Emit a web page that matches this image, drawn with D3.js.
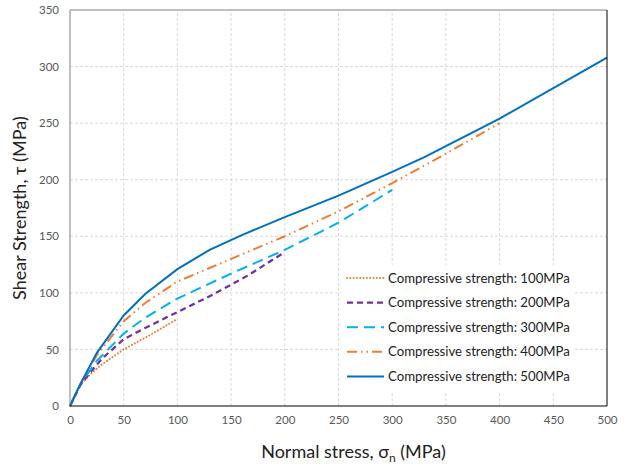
<!DOCTYPE html>
<html>
<head>
<meta charset="utf-8">
<script src="https://cdn.jsdelivr.net/npm/d3@7"></script>
<style>
  body { margin: 0; background: #fff; }
  text { font-family: Lato, 'Open Sans', sans-serif; }
</style>
</head>
<body>
<svg id="chart"></svg>
<script>
const xTicks = [0, 50, 100, 150, 200, 250, 300, 350, 400, 450, 500]
const yTicks = [0, 50, 100, 150, 200, 250, 300, 350]

const names = [
  'Compressive strength: 100MPa',
  'Compressive strength: 200MPa',
  'Compressive strength: 300MPa',
  'Compressive strength: 400MPa',
  'Compressive strength: 500MPa'
]

const x100 = [0, 5, 10, 20, 30, 50, 75, 100]
const y100 = [0, 11, 19, 29, 37, 50, 63, 77]

const x200 = [0, 10, 20, 30, 50, 70, 100, 130, 165, 200]
const y200 = [0, 19, 31, 42, 59, 69, 83, 97, 115, 136]

const x300 = [0, 10, 25, 50, 70, 100, 150, 200, 250, 300]
const y300 = [0, 20, 40, 64, 78, 95, 117, 138, 162, 191]

const x400 = [0, 10, 25, 50, 70, 100, 150, 200, 250, 300, 350, 400]
const y400 = [0, 20, 45, 75, 91, 110, 130, 150, 172, 197, 223, 250]

const x500 = [0, 10, 25, 50, 70, 100, 130, 160, 200, 250, 300, 330, 400, 450, 500]
const y500 = [0, 20, 47, 80, 99, 121, 138, 151, 167, 186, 207, 220, 254, 281, 308]

const width = 629
const height = 465
const margin = { top: 10, right: 22, bottom: 59, left: 70 }

const styles = [
  { color: '#ED7D31', dash: '0.1,3.2', cap: 'round', w: 2 },
  { color: '#7030A0', dash: '6,4', cap: 'butt', w: 2.25 },
  { color: '#00B0F0', dash: '11,6', cap: 'butt', w: 2 },
  { color: '#ED7D31', dash: '10,4,1.5,4,1.5,4', cap: 'butt', w: 2 },
  { color: '#0070C0', dash: null, cap: 'butt', w: 2 }
]

const series = [
  x100.map((d, i) => ({ x: d, y: y100[i] })),
  x200.map((d, i) => ({ x: d, y: y200[i] })),
  x300.map((d, i) => ({ x: d, y: y300[i] })),
  x400.map((d, i) => ({ x: d, y: y400[i] })),
  x500.map((d, i) => ({ x: d, y: y500[i] }))
]

const svg = d3.select('#chart')
  .attr('width', width)
  .attr('height', height)

const xScale = d3.scaleLinear()
  .domain([0, 500])
  .range([margin.left, width - margin.right])

const yScale = d3.scaleLinear()
  .domain([0, 350])
  .range([height - margin.bottom, margin.top])

// grid
svg.append('g')
  .selectAll('line')
  .data(xTicks.slice(1, -1))
  .join('line')
  .attr('x1', d => xScale(d)).attr('x2', d => xScale(d))
  .attr('y1', yScale(0)).attr('y2', yScale(350))
  .attr('stroke', '#d9d9d9')
  .attr('stroke-dasharray', '3,2')

svg.append('g')
  .selectAll('line')
  .data(yTicks.slice(1, -1))
  .join('line')
  .attr('y1', d => yScale(d)).attr('y2', d => yScale(d))
  .attr('x1', xScale(0)).attr('x2', xScale(500))
  .attr('stroke', '#d9d9d9')
  .attr('stroke-dasharray', '3,2')

// axes
const xAxis = d3.axisBottom(xScale).tickValues(xTicks).tickSize(0).tickPadding(10)
const yAxis = d3.axisLeft(yScale).tickValues(yTicks).tickSize(0).tickPadding(11)

const gx = svg.append('g')
  .attr('transform', `translate(0, ${yScale(0)})`)
  .call(xAxis)
gx.select('.domain').remove()
gx.selectAll('text').attr('fill', '#595959').style('font-size', '11.5px')

const gy = svg.append('g')
  .attr('transform', `translate(${xScale(0)}, 0)`)
  .call(yAxis)
gy.select('.domain').remove()
gy.selectAll('text').attr('fill', '#595959').style('font-size', '11.5px')

// lines
const line = d3.line()
  .x(d => xScale(d.x))
  .y(d => yScale(d.y))

svg.append('g')
  .selectAll('path')
  .data(series)
  .join('path')
  .attr('d', d => line(d))
  .attr('fill', 'none')
  .attr('stroke', (d, i) => styles[i].color)
  .attr('stroke-width', (d, i) => styles[i].w)
  .attr('stroke-dasharray', (d, i) => styles[i].dash)
  .attr('stroke-linecap', (d, i) => styles[i].cap)

// frame
svg.append('line')
  .attr('x1', xScale(0)).attr('x2', xScale(500))
  .attr('y1', yScale(350)).attr('y2', yScale(350))
  .attr('stroke', '#808080')
svg.append('line')
  .attr('x1', xScale(0)).attr('x2', xScale(0))
  .attr('y1', yScale(0)).attr('y2', yScale(350))
  .attr('stroke', '#808080')
svg.append('line')
  .attr('x1', xScale(500)).attr('x2', xScale(500))
  .attr('y1', yScale(0)).attr('y2', yScale(350))
  .attr('stroke', '#000')
svg.append('line')
  .attr('x1', xScale(0)).attr('x2', xScale(500))
  .attr('y1', yScale(0)).attr('y2', yScale(0))
  .attr('stroke', '#000')

// legend
const legend = svg.append('g')
legend.append('rect')
  .attr('x', 341).attr('y', 265)
  .attr('width', 234).attr('height', 126)
  .attr('fill', '#fff')

const item = legend.selectAll('g')
  .data(names)
  .join('g')
  .attr('transform', (d, i) => `translate(347, ${278 + i * 24.6})`)

item.append('line')
  .attr('x1', 0).attr('x2', 37)
  .attr('stroke', (d, i) => styles[i].color)
  .attr('stroke-width', (d, i) => styles[i].w)
  .attr('stroke-dasharray', (d, i) => styles[i].dash)
  .attr('stroke-linecap', (d, i) => styles[i].cap)

item.append('text')
  .attr('x', 41)
  .attr('dy', '0.35em')
  .attr('fill', '#222')
  .style('font-size', '13.2px')
  .text(d => d)

// titles
svg.append('text')
  .attr('transform', `translate(26, ${yScale(175)}) rotate(-90)`)
  .attr('text-anchor', 'middle')
  .attr('fill', '#222')
  .style('font-size', '18px')
  .text('Shear Strength, τ (MPa)')

const xt = svg.append('text')
  .attr('x', (xScale(0) + xScale(500)) / 2 + 15)
  .attr('y', 458)
  .attr('text-anchor', 'middle')
  .attr('fill', '#222')
  .style('font-size', '18px')
xt.append('tspan').text('Normal stress, σ')
xt.append('tspan').attr('dy', 4).style('font-size', '12px').text('n')
xt.append('tspan').attr('dy', -4).text(' (MPa)')
</script>
</body>
</html>
